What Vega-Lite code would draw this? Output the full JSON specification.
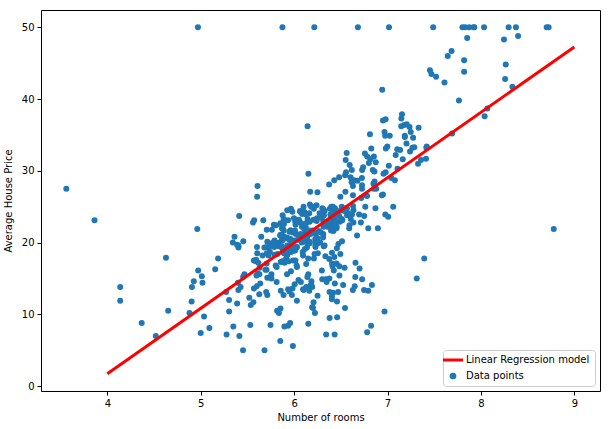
{
  "$schema": "https://vega.github.io/schema/vega-lite/v6.json",
  "width": 559,
  "height": 381,
  "autosize": {"type": "none"},
  "padding": {"left": 41, "top": 10, "right": 9, "bottom": 38},
  "background": "white",
  "config": {
    "font": "DejaVu Sans",
    "view": {"stroke": "black", "strokeWidth": 1},
    "axis": {"domain": false, "grid": false, "tickColor": "black", "tickSize": 4, "labelColor": "black", "labelFontSize": 10, "labelFont": "DejaVu Sans", "titleFont": "DejaVu Sans", "titleFontSize": 10, "titleFontWeight": "normal", "titleColor": "black", "labelPadding": 3},
    "legend": {"labelFont": "DejaVu Sans", "labelFontSize": 10, "labelColor": "black"}
  },
  "data": {"values": [
{"rm":6.575,"medv":24.0},{"rm":6.421,"medv":21.6},{"rm":7.185,"medv":34.7},{"rm":6.998,"medv":33.4},{"rm":7.147,"medv":36.2},{"rm":6.430,"medv":28.7},{"rm":6.012,"medv":22.9},{"rm":6.172,"medv":27.1},{"rm":5.631,"medv":16.5},{"rm":6.004,"medv":18.9},
{"rm":6.377,"medv":15.0},{"rm":6.009,"medv":18.9},{"rm":5.889,"medv":21.7},{"rm":5.949,"medv":20.4},{"rm":6.096,"medv":18.2},{"rm":5.834,"medv":19.9},{"rm":5.935,"medv":23.1},{"rm":5.990,"medv":17.5},{"rm":5.456,"medv":20.2},{"rm":5.727,"medv":18.2},
{"rm":5.570,"medv":13.6},{"rm":5.965,"medv":19.6},{"rm":6.142,"medv":15.2},{"rm":5.813,"medv":14.5},{"rm":5.924,"medv":15.6},{"rm":5.599,"medv":13.9},{"rm":5.813,"medv":16.6},{"rm":6.047,"medv":14.8},{"rm":6.495,"medv":18.4},{"rm":6.674,"medv":21.0},
{"rm":5.713,"medv":12.7},{"rm":6.072,"medv":14.5},{"rm":5.950,"medv":13.2},{"rm":5.701,"medv":13.1},{"rm":6.096,"medv":13.5},{"rm":5.933,"medv":18.9},{"rm":5.841,"medv":20.0},{"rm":5.850,"medv":21.0},{"rm":5.966,"medv":24.7},{"rm":6.595,"medv":30.8},
{"rm":7.024,"medv":34.9},{"rm":6.770,"medv":26.6},{"rm":6.169,"medv":25.3},{"rm":6.211,"medv":24.7},{"rm":6.069,"medv":21.2},{"rm":5.682,"medv":19.3},{"rm":5.786,"medv":20.0},{"rm":6.030,"medv":16.6},{"rm":5.399,"medv":14.4},{"rm":5.602,"medv":19.4},
{"rm":5.963,"medv":19.7},{"rm":6.115,"medv":20.5},{"rm":6.511,"medv":25.0},{"rm":5.998,"medv":23.4},{"rm":5.888,"medv":18.9},{"rm":7.249,"medv":35.4},{"rm":6.383,"medv":24.7},{"rm":6.816,"medv":31.6},{"rm":6.145,"medv":23.3},{"rm":5.927,"medv":19.6},
{"rm":5.741,"medv":18.7},{"rm":5.966,"medv":16.0},{"rm":6.456,"medv":22.2},{"rm":6.762,"medv":25.0},{"rm":7.104,"medv":33.0},{"rm":6.290,"medv":23.5},{"rm":5.787,"medv":19.4},{"rm":5.878,"medv":22.0},{"rm":5.594,"medv":17.4},{"rm":5.885,"medv":20.9},
{"rm":6.417,"medv":24.2},{"rm":5.961,"medv":21.7},{"rm":6.065,"medv":22.8},{"rm":6.245,"medv":23.4},{"rm":6.273,"medv":24.1},{"rm":6.286,"medv":21.4},{"rm":6.279,"medv":20.0},{"rm":6.140,"medv":20.8},{"rm":6.232,"medv":21.2},{"rm":5.874,"medv":20.3},
{"rm":6.727,"medv":28.0},{"rm":6.619,"medv":23.9},{"rm":6.302,"medv":24.8},{"rm":6.167,"medv":22.9},{"rm":6.389,"medv":23.9},{"rm":6.630,"medv":26.6},{"rm":6.015,"medv":22.5},{"rm":6.121,"medv":22.2},{"rm":7.007,"medv":23.6},{"rm":7.079,"medv":28.7},
{"rm":6.417,"medv":22.6},{"rm":6.405,"medv":22.0},{"rm":6.442,"medv":22.9},{"rm":6.211,"medv":25.0},{"rm":6.249,"medv":20.6},{"rm":6.625,"medv":28.4},{"rm":6.163,"medv":21.4},{"rm":8.069,"medv":38.7},{"rm":7.820,"medv":43.8},{"rm":7.416,"medv":33.2},
{"rm":6.727,"medv":27.5},{"rm":6.781,"medv":26.5},{"rm":6.405,"medv":18.6},{"rm":6.137,"medv":19.3},{"rm":6.167,"medv":20.1},{"rm":5.851,"medv":19.5},{"rm":5.836,"medv":19.5},{"rm":6.127,"medv":20.4},{"rm":6.474,"medv":19.8},{"rm":6.229,"medv":19.4},
{"rm":6.195,"medv":21.7},{"rm":6.715,"medv":22.8},{"rm":5.913,"medv":18.8},{"rm":6.092,"medv":18.7},{"rm":6.254,"medv":18.5},{"rm":5.928,"medv":18.3},{"rm":6.176,"medv":21.2},{"rm":6.021,"medv":19.2},{"rm":5.872,"medv":20.4},{"rm":5.731,"medv":19.3},
{"rm":5.870,"medv":22.0},{"rm":6.004,"medv":20.3},{"rm":5.961,"medv":20.5},{"rm":5.856,"medv":17.3},{"rm":5.879,"medv":18.8},{"rm":5.986,"medv":21.4},{"rm":5.613,"medv":15.7},{"rm":5.693,"medv":16.2},{"rm":6.431,"medv":18.0},{"rm":5.637,"medv":14.3},
{"rm":6.458,"medv":19.2},{"rm":6.326,"medv":19.6},{"rm":6.372,"medv":23.0},{"rm":5.822,"medv":18.4},{"rm":5.757,"medv":15.6},{"rm":6.335,"medv":18.1},{"rm":5.942,"medv":17.4},{"rm":6.454,"medv":17.1},{"rm":5.857,"medv":13.3},{"rm":6.151,"medv":17.8},
{"rm":6.174,"medv":14.0},{"rm":5.019,"medv":14.4},{"rm":5.403,"medv":13.4},{"rm":5.468,"medv":15.6},{"rm":4.903,"medv":11.8},{"rm":6.130,"medv":13.8},{"rm":5.628,"medv":15.6},{"rm":4.926,"medv":14.6},{"rm":5.186,"medv":17.8},{"rm":5.597,"medv":15.4},
{"rm":6.122,"medv":21.5},{"rm":5.404,"medv":19.6},{"rm":5.012,"medv":15.3},{"rm":5.709,"medv":19.4},{"rm":6.129,"medv":17.0},{"rm":6.152,"medv":15.6},{"rm":5.272,"medv":13.1},{"rm":6.943,"medv":41.3},{"rm":6.066,"medv":24.3},{"rm":6.510,"medv":23.3},
{"rm":6.250,"medv":27.0},{"rm":7.489,"medv":50.0},{"rm":7.802,"medv":50.0},{"rm":8.375,"medv":50.0},{"rm":5.854,"medv":22.7},{"rm":6.101,"medv":25.0},{"rm":7.929,"medv":50.0},{"rm":5.877,"medv":23.8},{"rm":6.319,"medv":23.8},{"rm":6.402,"medv":22.3},
{"rm":5.875,"medv":17.4},{"rm":5.880,"medv":19.1},{"rm":5.572,"medv":23.1},{"rm":6.416,"medv":23.6},{"rm":5.859,"medv":22.6},{"rm":6.546,"medv":29.4},{"rm":6.020,"medv":23.2},{"rm":6.315,"medv":24.6},{"rm":6.860,"medv":29.9},{"rm":6.980,"medv":37.2},
{"rm":7.765,"medv":39.8},{"rm":6.144,"medv":36.2},{"rm":7.155,"medv":37.9},{"rm":6.563,"medv":32.5},{"rm":5.604,"medv":26.4},{"rm":6.153,"medv":29.6},{"rm":7.831,"medv":50.0},{"rm":6.782,"medv":32.0},{"rm":6.556,"medv":29.8},{"rm":7.185,"medv":34.9},
{"rm":6.951,"medv":37.0},{"rm":6.739,"medv":30.5},{"rm":7.178,"medv":36.4},{"rm":6.800,"medv":31.1},{"rm":6.604,"medv":29.1},{"rm":7.875,"medv":50.0},{"rm":7.287,"medv":33.3},{"rm":7.107,"medv":30.3},{"rm":7.274,"medv":34.6},{"rm":6.975,"medv":34.9},
{"rm":7.135,"medv":32.9},{"rm":6.162,"medv":24.1},{"rm":7.610,"medv":42.3},{"rm":7.853,"medv":48.5},{"rm":8.034,"medv":50.0},{"rm":5.891,"medv":22.6},{"rm":6.326,"medv":24.4},{"rm":5.783,"medv":22.5},{"rm":6.064,"medv":24.4},{"rm":5.344,"medv":20.0},
{"rm":5.960,"medv":21.7},{"rm":5.404,"medv":19.3},{"rm":5.807,"medv":22.4},{"rm":6.375,"medv":28.1},{"rm":5.412,"medv":23.7},{"rm":6.182,"medv":25.0},{"rm":5.888,"medv":23.3},{"rm":6.642,"medv":28.7},{"rm":5.951,"medv":21.5},{"rm":6.373,"medv":23.0},
{"rm":6.951,"medv":26.7},{"rm":6.164,"medv":21.7},{"rm":6.879,"medv":27.5},{"rm":6.618,"medv":30.1},{"rm":8.266,"medv":44.8},{"rm":8.725,"medv":50.0},{"rm":8.040,"medv":37.6},{"rm":7.163,"medv":31.6},{"rm":7.686,"medv":46.7},{"rm":6.552,"medv":31.5},
{"rm":5.981,"medv":24.3},{"rm":7.412,"medv":31.7},{"rm":8.337,"medv":41.7},{"rm":8.247,"medv":48.3},{"rm":6.726,"medv":29.0},{"rm":6.086,"medv":24.0},{"rm":6.631,"medv":25.1},{"rm":7.358,"medv":31.5},{"rm":6.481,"medv":23.7},{"rm":6.606,"medv":23.3},
{"rm":6.897,"medv":22.0},{"rm":6.095,"medv":20.1},{"rm":6.358,"medv":22.2},{"rm":6.393,"medv":23.7},{"rm":5.593,"medv":17.6},{"rm":5.605,"medv":18.5},{"rm":6.108,"medv":24.3},{"rm":6.226,"medv":20.5},{"rm":6.433,"medv":24.5},{"rm":6.718,"medv":26.2},
{"rm":6.487,"medv":24.4},{"rm":6.438,"medv":24.8},{"rm":6.957,"medv":29.6},{"rm":8.259,"medv":42.8},{"rm":6.108,"medv":21.9},{"rm":5.876,"medv":20.9},{"rm":7.454,"medv":44.0},{"rm":8.704,"medv":50.0},{"rm":7.333,"medv":36.0},{"rm":6.842,"medv":30.1},
{"rm":7.203,"medv":33.8},{"rm":7.520,"medv":43.1},{"rm":8.398,"medv":48.8},{"rm":7.327,"medv":31.0},{"rm":7.206,"medv":36.5},{"rm":5.560,"medv":22.8},{"rm":7.014,"medv":30.7},{"rm":8.297,"medv":50.0},{"rm":7.470,"medv":43.5},{"rm":5.920,"medv":20.7},
{"rm":5.856,"medv":21.1},{"rm":6.240,"medv":25.2},{"rm":6.538,"medv":24.4},{"rm":7.691,"medv":35.2},{"rm":6.758,"medv":32.4},{"rm":6.854,"medv":32.0},{"rm":7.267,"medv":33.2},{"rm":6.826,"medv":33.1},{"rm":6.482,"medv":29.1},{"rm":6.812,"medv":35.1},
{"rm":7.820,"medv":45.4},{"rm":6.968,"medv":35.4},{"rm":7.645,"medv":46.0},{"rm":7.923,"medv":50.0},{"rm":7.088,"medv":32.2},{"rm":6.453,"medv":22.0},{"rm":6.230,"medv":20.1},{"rm":6.209,"medv":23.2},{"rm":6.315,"medv":22.3},{"rm":6.565,"medv":24.8},
{"rm":6.861,"medv":28.5},{"rm":7.148,"medv":37.3},{"rm":6.630,"medv":27.9},{"rm":6.127,"medv":23.9},{"rm":6.009,"medv":21.7},{"rm":6.678,"medv":28.6},{"rm":6.549,"medv":27.1},{"rm":5.790,"medv":20.3},{"rm":6.345,"medv":22.5},{"rm":7.041,"medv":29.0},
{"rm":6.871,"medv":24.8},{"rm":6.590,"medv":22.0},{"rm":6.495,"medv":26.4},{"rm":6.982,"medv":33.1},{"rm":7.236,"medv":36.1},{"rm":6.616,"medv":28.4},{"rm":7.420,"medv":33.4},{"rm":6.849,"medv":28.2},{"rm":6.635,"medv":22.8},{"rm":5.972,"medv":20.3},
{"rm":4.973,"medv":16.1},{"rm":6.122,"medv":22.1},{"rm":6.023,"medv":19.4},{"rm":6.266,"medv":21.6},{"rm":6.567,"medv":23.8},{"rm":5.705,"medv":16.2},{"rm":5.914,"medv":17.8},{"rm":5.782,"medv":19.8},{"rm":6.382,"medv":23.1},{"rm":6.113,"medv":21.0},
{"rm":6.426,"medv":23.8},{"rm":6.376,"medv":23.1},{"rm":6.041,"medv":20.4},{"rm":5.708,"medv":18.5},{"rm":6.415,"medv":25.0},{"rm":6.431,"medv":24.6},{"rm":6.312,"medv":23.0},{"rm":6.083,"medv":22.2},{"rm":5.868,"medv":19.3},{"rm":6.333,"medv":22.6},
{"rm":6.144,"medv":19.8},{"rm":5.706,"medv":17.1},{"rm":6.031,"medv":19.4},{"rm":6.316,"medv":22.2},{"rm":6.310,"medv":20.7},{"rm":6.037,"medv":21.1},{"rm":5.869,"medv":19.5},{"rm":5.895,"medv":18.5},{"rm":6.059,"medv":20.6},{"rm":5.985,"medv":19.0},
{"rm":5.968,"medv":18.7},{"rm":7.241,"medv":32.7},{"rm":6.540,"medv":16.5},{"rm":6.696,"medv":23.9},{"rm":6.874,"medv":31.2},{"rm":6.014,"medv":17.5},{"rm":5.898,"medv":17.2},{"rm":6.516,"medv":23.1},{"rm":6.635,"medv":24.5},{"rm":6.939,"medv":26.6},
{"rm":6.490,"medv":22.9},{"rm":6.579,"medv":24.1},{"rm":5.884,"medv":18.6},{"rm":6.728,"medv":30.1},{"rm":5.663,"medv":18.2},{"rm":5.936,"medv":20.6},{"rm":6.212,"medv":17.8},{"rm":6.395,"medv":21.7},{"rm":6.127,"medv":22.7},{"rm":6.112,"medv":22.6},
{"rm":6.398,"medv":25.0},{"rm":6.251,"medv":19.9},{"rm":5.362,"medv":20.8},{"rm":5.803,"medv":16.8},{"rm":8.780,"medv":21.9},{"rm":3.561,"medv":27.5},{"rm":4.963,"medv":21.9},{"rm":3.863,"medv":23.1},{"rm":4.970,"medv":50.0},{"rm":6.683,"medv":50.0},
{"rm":7.016,"medv":50.0},{"rm":6.216,"medv":50.0},{"rm":5.875,"medv":50.0},{"rm":4.906,"medv":13.8},{"rm":4.138,"medv":13.8},{"rm":7.313,"medv":15.0},{"rm":6.649,"medv":13.9},{"rm":6.794,"medv":13.3},{"rm":6.380,"medv":13.1},{"rm":6.223,"medv":10.2},
{"rm":6.968,"medv":10.4},{"rm":6.545,"medv":10.9},{"rm":5.536,"medv":11.3},{"rm":5.520,"medv":12.3},{"rm":4.368,"medv":8.8},{"rm":5.277,"medv":7.2},{"rm":4.652,"medv":10.5},{"rm":5.000,"medv":7.4},{"rm":4.880,"medv":10.2},{"rm":5.390,"medv":11.5},
{"rm":5.713,"medv":15.1},{"rm":6.051,"medv":23.2},{"rm":5.036,"medv":9.7},{"rm":6.193,"medv":13.8},{"rm":5.887,"medv":12.7},{"rm":6.471,"medv":13.1},{"rm":6.405,"medv":12.5},{"rm":5.747,"medv":8.5},{"rm":5.453,"medv":5.0},{"rm":5.852,"medv":6.3},
{"rm":5.987,"medv":5.6},{"rm":6.343,"medv":7.2},{"rm":6.404,"medv":12.1},{"rm":5.349,"medv":8.3},{"rm":5.531,"medv":8.5},{"rm":5.683,"medv":5.0},{"rm":4.138,"medv":11.9},{"rm":5.608,"medv":27.9},{"rm":5.617,"medv":17.2},{"rm":6.852,"medv":27.5},
{"rm":5.757,"medv":15.0},{"rm":6.657,"medv":17.2},{"rm":4.628,"medv":17.9},{"rm":5.155,"medv":16.3},{"rm":4.519,"medv":7.0},{"rm":6.434,"medv":7.2},{"rm":6.782,"medv":7.5},{"rm":5.304,"medv":10.4},{"rm":5.957,"medv":8.8},{"rm":6.824,"medv":8.4},
{"rm":6.411,"medv":16.7},{"rm":6.006,"medv":14.2},{"rm":5.648,"medv":20.8},{"rm":6.103,"medv":13.4},{"rm":5.565,"medv":11.7},{"rm":5.896,"medv":8.3},{"rm":5.837,"medv":10.2},{"rm":6.202,"medv":10.9},{"rm":6.193,"medv":11.0},{"rm":6.380,"medv":9.5},
{"rm":6.348,"medv":14.5},{"rm":6.833,"medv":14.1},{"rm":6.425,"medv":16.1},{"rm":6.436,"medv":14.3},{"rm":6.208,"medv":11.7},{"rm":6.629,"medv":13.4},{"rm":6.461,"medv":9.6},{"rm":6.152,"medv":8.7},{"rm":5.935,"medv":8.4},{"rm":5.627,"medv":12.8},
{"rm":5.818,"medv":10.5},{"rm":6.406,"medv":17.1},{"rm":6.219,"medv":18.4},{"rm":6.485,"medv":15.4},{"rm":5.854,"medv":10.8},{"rm":6.459,"medv":11.8},{"rm":6.341,"medv":14.9},{"rm":6.251,"medv":12.6},{"rm":6.185,"medv":14.1},{"rm":6.417,"medv":13.0},
{"rm":6.749,"medv":13.4},{"rm":6.655,"medv":15.2},{"rm":6.297,"medv":16.1},{"rm":7.393,"medv":17.8},{"rm":6.728,"medv":14.9},{"rm":6.525,"medv":14.1},{"rm":5.976,"medv":12.7},{"rm":5.936,"medv":13.5},{"rm":6.301,"medv":14.9},{"rm":6.081,"medv":20.0},
{"rm":6.701,"medv":16.4},{"rm":6.376,"medv":17.7},{"rm":6.317,"medv":19.5},{"rm":6.513,"medv":20.2},{"rm":6.209,"medv":21.4},{"rm":5.759,"medv":19.9},{"rm":5.952,"medv":19.0},{"rm":6.003,"medv":19.1},{"rm":5.926,"medv":19.1},{"rm":5.713,"medv":20.1},
{"rm":6.167,"medv":19.9},{"rm":6.229,"medv":19.6},{"rm":6.437,"medv":23.2},{"rm":6.980,"medv":29.8},{"rm":5.427,"medv":13.8},{"rm":6.162,"medv":13.3},{"rm":6.484,"medv":16.7},{"rm":5.304,"medv":12.0},{"rm":6.185,"medv":14.6},{"rm":6.229,"medv":21.4},
{"rm":6.242,"medv":23.0},{"rm":6.750,"medv":23.7},{"rm":7.061,"medv":25.0},{"rm":5.762,"medv":21.8},{"rm":5.871,"medv":20.6},{"rm":6.312,"medv":21.2},{"rm":6.114,"medv":19.1},{"rm":5.905,"medv":20.6},{"rm":5.454,"medv":15.2},{"rm":5.414,"medv":7.0},
{"rm":5.093,"medv":8.1},{"rm":5.983,"medv":13.6},{"rm":5.983,"medv":20.1},{"rm":5.707,"medv":21.8},{"rm":5.926,"medv":24.5},{"rm":5.670,"medv":23.1},{"rm":5.390,"medv":19.7},{"rm":5.794,"medv":18.3},{"rm":6.019,"medv":21.2},{"rm":5.569,"medv":17.5},
{"rm":6.027,"medv":16.8},{"rm":6.593,"medv":22.4},{"rm":6.120,"medv":20.6},{"rm":6.976,"medv":23.9},{"rm":6.794,"medv":22.0},{"rm":6.030,"medv":11.9}
  ]},
  "encoding": {
    "x": {"field": "rm", "type": "quantitative", "title": "Number of rooms",
      "scale": {"domain": [3.29, 9.275], "nice": false, "zero": false},
      "axis": {"values": [4, 5, 6, 7, 8, 9], "titlePadding": 4}},
    "y": {"field": "medv", "type": "quantitative", "title": "Average House Price",
      "scale": {"domain": [-0.68, 52.41], "nice": false, "zero": false},
      "axis": {"values": [0, 10, 20, 30, 40, 50], "titlePadding": 8}}
  },
  "layer": [
    {
      "mark": {"type": "point", "filled": true, "size": 36, "opacity": 1},
      "encoding": {
        "color": {"datum": "Data points", "type": "nominal",
          "scale": {"domain": ["Linear Regression model", "Data points"], "range": ["#ff0000", "#1f77b4"]},
          "legend": {
            "title": null, "orient": "bottom-right", "offset": 5,
            "strokeColor": "#cccccc", "fillColor": "white", "cornerRadius": 3, "padding": 5,
            "rowPadding": 5, "labelOffset": 8, "symbolOpacity": 1,
            "encode": {"symbols": {"update": {
              "shape": {"signal": "datum.value === 'Linear Regression model' ? 'stroke' : 'circle'"},
              "size": {"signal": "datum.value === 'Linear Regression model' ? 400 : 45"},
              "strokeWidth": {"signal": "datum.value === 'Linear Regression model' ? 3 : 0"},
              "stroke": {"signal": "datum.value === 'Linear Regression model' ? '#ff0000' : '#1f77b4'"},
              "fill": {"signal": "datum.value === 'Linear Regression model' ? 'transparent' : '#1f77b4'"}
            }}}
          }}
      }
    },
    {
      "transform": [{"regression": "medv", "on": "rm", "extent": [4, 9]}],
      "mark": {"type": "line", "strokeWidth": 3},
      "encoding": {
        "color": {"datum": "Linear Regression model", "type": "nominal"}
      }
    }
  ]
}
